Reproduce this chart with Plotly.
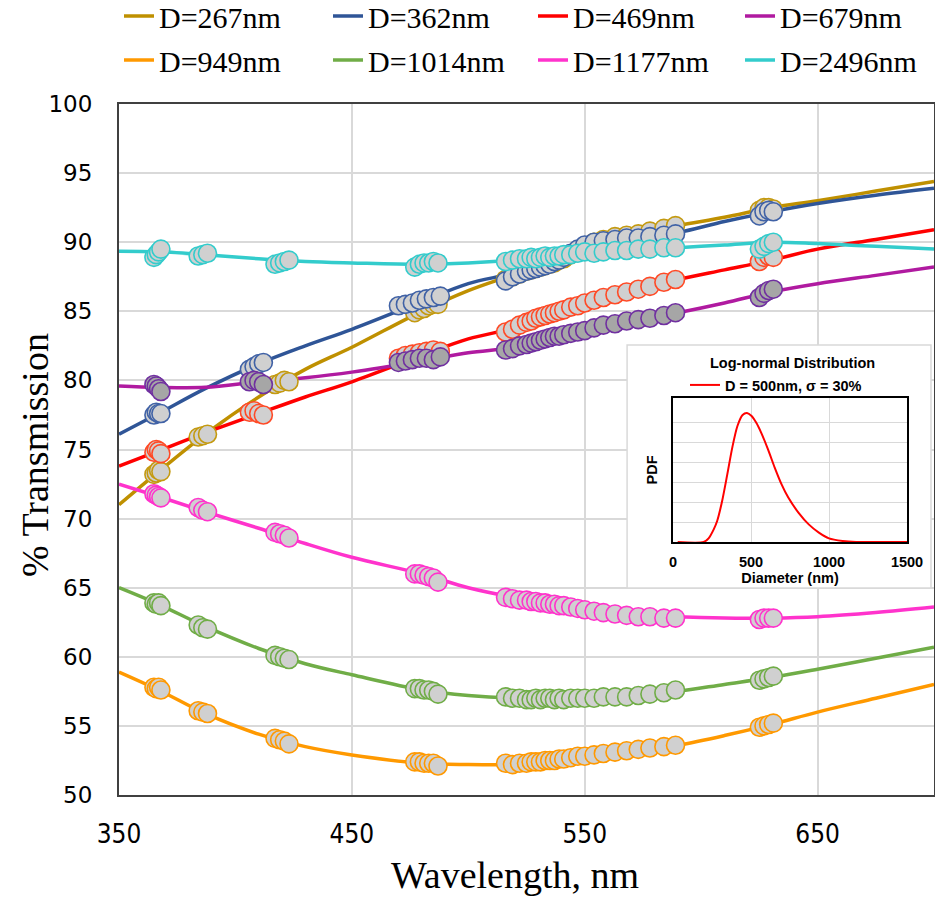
import plotly.graph_objects as go

# ---------------- data ----------------
WL_CURVE = [350, 367, 387, 410, 430, 450, 480, 500, 520, 540, 555, 570, 590, 610, 630, 650, 675, 700]
CURVE_267 = [71.0, 73.4, 76.1, 78.8, 80.8, 82.4, 85.0, 86.5, 87.7, 89.0, 89.9, 90.5, 91.2, 91.8, 92.5, 93.0, 93.7, 94.4]
CURVE_362 = [76.1, 77.6, 79.4, 81.2, 82.5, 83.7, 85.7, 87.0, 87.8, 89.0, 89.9, 90.2, 90.7, 91.5, 92.2, 92.8, 93.4, 93.9]
CURVE_469 = [73.8, 74.9, 76.2, 77.6, 78.8, 79.9, 81.8, 83.0, 83.8, 84.9, 85.8, 86.5, 87.3, 88.0, 88.7, 89.5, 90.2, 90.9]
CURVE_679 = [79.6, 79.5, 79.5, 79.9, 80.2, 80.6, 81.4, 82.0, 82.4, 83.2, 83.8, 84.3, 84.9, 85.6, 86.4, 87.0, 87.6, 88.2]
CURVE_949 = [58.9, 57.6, 55.9, 54.4, 53.5, 52.9, 52.3, 52.2, 52.2, 52.4, 52.8, 53.1, 53.6, 54.3, 55.1, 56.0, 57.0, 58.0]
CURVE_1014 = [65.0, 63.8, 62.2, 60.6, 59.5, 58.7, 57.6, 57.2, 57.0, 57.0, 57.0, 57.1, 57.5, 58.0, 58.5, 59.1, 59.9, 60.7]
CURVE_1177 = [72.5, 71.6, 70.5, 69.3, 68.2, 67.2, 66.0, 65.0, 64.3, 63.8, 63.4, 63.1, 62.9, 62.8, 62.8, 62.9, 63.2, 63.6]
CURVE_2496 = [89.35, 89.3, 89.1, 88.8, 88.6, 88.5, 88.4, 88.5, 88.7, 89.0, 89.2, 89.4, 89.6, 89.8, 90.0, 89.9, 89.7, 89.5]

# measured wavelengths (two measurement sets)
WL_MEAS_A = [365, 366, 367, 368, 384, 386, 388, 417, 419, 421, 423,
             477, 479, 481, 483, 485, 487,
             516, 519, 522, 525, 527, 529, 531, 533, 535, 537, 539, 541, 544, 547, 550, 554, 558, 563, 568, 573, 578, 584, 589,
             625, 627, 629, 631]
WL_MEAS_B = [365, 366, 367, 368, 406, 408, 410, 412,
             470, 473, 476, 479, 482, 485, 488,
             516, 519, 522, 525, 527, 529, 531, 533, 535, 537, 539, 541, 544, 547, 550, 554, 558, 563, 568, 573, 578, 584, 589,
             625, 627, 629, 631]

MEAS_267 = [73.2, 73.3, 73.5, 73.4, 75.9, 76.0, 76.1, 79.7, 79.8, 80.0, 79.9,
            84.9, 85.1, 85.2, 85.4, 85.5, 85.5,
            87.3, 87.5, 87.7, 87.9, 88.0, 88.1, 88.2, 88.3, 88.4, 88.5, 88.7, 88.8, 89.1, 89.4, 89.7, 90.0, 90.2, 90.4, 90.5, 90.6, 90.8, 91.0, 91.2,
            92.3, 92.5, 92.5, 92.4]
MEAS_2496 = [88.9, 89.1, 89.3, 89.5, 89.0, 89.1, 89.2, 88.4, 88.5, 88.6, 88.7,
             88.2, 88.4, 88.5, 88.5, 88.6, 88.5,
             88.6, 88.7, 88.8, 88.8, 88.9, 88.8, 88.9, 89.0, 88.9, 89.0, 89.0, 89.1, 89.1, 89.2, 89.3, 89.2, 89.3, 89.4, 89.4, 89.5, 89.5, 89.6, 89.6,
             89.5, 89.7, 89.9, 90.0]
MEAS_1177 = [71.8, 71.7, 71.6, 71.5, 70.8, 70.6, 70.5, 69.0, 68.9, 68.8, 68.6,
             66.0, 66.0, 65.9, 65.8, 65.7, 65.4,
             64.3, 64.2, 64.1, 64.1, 64.0, 64.0, 63.9, 63.9, 63.8, 63.8, 63.7, 63.7, 63.6, 63.5, 63.4, 63.3, 63.2, 63.1, 63.0, 62.9, 62.9, 62.8, 62.8,
             62.7, 62.8, 62.8, 62.8]
MEAS_1014 = [63.9, 63.8, 63.9, 63.7, 62.3, 62.1, 62.0, 60.1, 60.0, 59.9, 59.8,
             57.7, 57.7, 57.6, 57.6, 57.5, 57.3,
             57.1, 57.0, 57.0, 56.9, 56.9, 57.0, 56.9, 57.0, 57.0, 56.9, 57.0, 56.9, 57.0, 57.0, 57.0, 57.0, 57.1, 57.1, 57.1, 57.2, 57.3, 57.4, 57.6,
             58.3, 58.4, 58.5, 58.6]
MEAS_949 = [57.8, 57.7, 57.8, 57.6, 56.1, 56.0, 55.9, 54.1, 54.0, 53.9, 53.7,
            52.4, 52.4, 52.3, 52.3, 52.3, 52.1,
            52.3, 52.2, 52.3, 52.3, 52.4, 52.4, 52.4, 52.5, 52.5, 52.5, 52.6, 52.6, 52.7, 52.8, 52.8, 52.9, 53.0, 53.1, 53.2, 53.3, 53.4, 53.5, 53.6,
            54.9, 55.0, 55.1, 55.2]
MEAS_362 = [77.5, 77.7, 77.6, 77.6, 80.8, 81.0, 81.2, 81.3,
            85.4, 85.5, 85.6, 85.8, 85.9, 86.0, 86.1,
            87.2, 87.5, 87.7, 87.9, 88.0, 88.1, 88.2, 88.3, 88.4, 88.6, 88.7, 88.9, 89.2, 89.5, 89.8, 90.0, 90.1, 90.2, 90.3, 90.3, 90.4, 90.5, 90.6,
            91.9, 92.2, 92.3, 92.2]
MEAS_469 = [74.8, 75.0, 74.9, 74.7, 77.7, 77.8, 77.6, 77.5,
            81.6, 81.8, 81.9, 82.0, 82.1, 82.2, 82.1,
            83.5, 83.7, 84.0, 84.2, 84.3, 84.5, 84.6, 84.7, 84.8, 84.9, 85.0, 85.1, 85.3, 85.4, 85.6, 85.8, 86.0, 86.2, 86.4, 86.6, 86.8, 87.1, 87.3,
            88.6, 88.9, 89.0, 88.9]
MEAS_679 = [79.7, 79.6, 79.4, 79.2, 79.9, 80.0, 79.9, 79.7,
            81.3, 81.4, 81.5, 81.6, 81.6, 81.5, 81.7,
            82.2, 82.3, 82.5, 82.6, 82.7, 82.8, 82.9, 83.0, 83.1, 83.2, 83.2, 83.3, 83.4, 83.5, 83.6, 83.8, 84.0, 84.1, 84.3, 84.4, 84.5, 84.7, 84.9,
            86.0, 86.3, 86.5, 86.6]

SERIES_NAMES = ["D=267nm", "D=362nm", "D=469nm", "D=679nm",
                "D=949nm", "D=1014nm", "D=1177nm", "D=2496nm"]
X_TICKS = [350, 450, 550, 650]
Y_TICKS = [50, 55, 60, 65, 70, 75, 80, 85, 90, 95, 100]

# inset: log-normal distribution (arbitrary units)
DIAM = [30, 196, 228, 261, 283, 315, 348, 380, 413, 446, 474, 504, 533, 565, 609, 652, 696, 739, 804, 870, 935, 1000, 1087, 1174, 1300, 1500]
PDF = [0, 0, 0.18, 0.63, 1.05, 2.05, 3.38, 4.72, 5.8, 6.35, 6.45, 6.3, 5.97, 5.47, 4.63, 3.72, 2.88, 2.22, 1.47, 0.88, 0.47, 0.18, 0.05, 0, 0, 0]
INSET_X_TICKS = [0, 500, 1000, 1500]

# ---------------- styles ----------------
LINE_COLORS = ["#BF9000", "#2F5597", "#FF0000", "#B01AA0", "#FF9900", "#70AD47", "#FF33CC", "#33CCCC"]
EDGE_COLORS = ["#C49A10", "#4062A6", "#FF4A26", "#7030A0", "#FF9900", "#70AD47", "#FF33CC", "#33CCCC"]
FILL_COLORS = ["#D0D0D0", "#D0D0D0", "#D0D0D0", "#A6A6A6", "#D0D0D0", "#D0D0D0", "#D0D0D0", "#D0D0D0"]
CURVES = [CURVE_267, CURVE_362, CURVE_469, CURVE_679, CURVE_949, CURVE_1014, CURVE_1177, CURVE_2496]
MEAS_WL = [WL_MEAS_A, WL_MEAS_B, WL_MEAS_B, WL_MEAS_B, WL_MEAS_A, WL_MEAS_A, WL_MEAS_A, WL_MEAS_A]
MEAS = [MEAS_267, MEAS_362, MEAS_469, MEAS_679, MEAS_949, MEAS_1014, MEAS_1177, MEAS_2496]

L, R, T, B = 119, 1, 104, 104
W, H = 935, 899
PW, PH = W - L - R, H - T - B

def px(xp):
    return (xp - L) / PW

def py(yp):
    return (H - B - yp) / PH

LEGEND_COL_X = [119, 328, 533, 740]   # pixel positions of legend columns
LEGEND_ROW_Y = [16, 60]

fig = go.Figure()
legend_ids = []
for i in range(8):
    lid = "legend" if i == 0 else f"legend{i + 1}"
    legend_ids.append(lid)
    fig.add_trace(go.Scatter(x=WL_CURVE, y=CURVES[i], mode="lines", name=SERIES_NAMES[i],
                             line=dict(color=LINE_COLORS[i], width=3.5, shape="spline", smoothing=1.0),
                             legend=lid, xaxis="x", yaxis="y"))

for i in range(8):
    fig.add_trace(go.Scatter(x=MEAS_WL[i], y=MEAS[i], mode="markers", name=SERIES_NAMES[i], showlegend=False,
                             marker=dict(size=18, color=FILL_COLORS[i], line=dict(color=EDGE_COLORS[i], width=1.6)),
                             xaxis="x", yaxis="y"))

fig.add_trace(go.Scatter(x=DIAM, y=PDF, mode="lines", name="D = 500nm, σ = 30%",
                         line=dict(color="#FF0000", width=2, shape="spline", smoothing=0.8),
                         legend="legend9", xaxis="x2", yaxis="y2"))

grid = "#D9D9D9"
legend_font = dict(family="Liberation Serif, Times New Roman, serif", size=30, color="black")
inset_font = dict(family="Liberation Sans, Arial, sans-serif", size=14.5, color="black")

layout_legends = {}
for i, lid in enumerate(legend_ids):
    layout_legends[lid] = dict(orientation="h", x=px(LEGEND_COL_X[i % 4]), y=py(LEGEND_ROW_Y[i // 4]),
                               xanchor="left", yanchor="middle", bgcolor="rgba(0,0,0,0)", font=legend_font)

fig.update_layout(
    width=W, height=H,
    margin=dict(l=L, r=R, t=T, b=B, autoexpand=False),
    paper_bgcolor="white", plot_bgcolor="white",
    xaxis=dict(domain=[0, 1], range=[350, 700], tickvals=X_TICKS, showgrid=True, gridcolor=grid, gridwidth=2,
               showline=True, linecolor="#404040", linewidth=2, mirror=True, ticks="", zeroline=False,
               tickfont=dict(family="Liberation Sans Narrow, DejaVu Sans Condensed, Liberation Sans, sans-serif", size=26, color="black"),
               ticklabelstandoff=15),
    yaxis=dict(domain=[0, 1], range=[50, 100], tickvals=Y_TICKS, showgrid=True, gridcolor=grid, gridwidth=2,
               showline=True, linecolor="#404040", linewidth=2, mirror=True, ticks="", zeroline=False,
               tickfont=dict(family="DejaVu Sans, sans-serif", size=23, color="black"),
               ticklabelstandoff=20),
    xaxis2=dict(domain=[px(673), px(907)], anchor="y2", range=[0, 1500], tickvals=INSET_X_TICKS,
                showgrid=True, gridcolor=grid, gridwidth=1, showline=True, linecolor="black", linewidth=1.5,
                mirror=True, ticks="", zeroline=False, ticklabelstandoff=6,
                tickfont=dict(inset_font, weight="bold"),
                title=dict(text="<b>Diameter (nm)</b>", font=inset_font, standoff=4)),
    yaxis2=dict(domain=[py(542), py(398)], anchor="x2", range=[0, 7.2], tickvals=[1, 2, 3, 4, 5, 6],
                showticklabels=False, showgrid=True, gridcolor=grid, gridwidth=1, showline=True,
                linecolor="black", linewidth=1.5, mirror=True, ticks="", zeroline=False,
                title=dict(text="<b>PDF</b>", font=inset_font, standoff=10)),
    legend9=dict(orientation="h", x=px(685), y=py(385), xanchor="left", yanchor="middle",
                 bgcolor="rgba(0,0,0,0)", font=dict(inset_font, weight="bold")),
    shapes=[dict(type="rect", xref="x", yref="y", x0=568.2, x1=698.7, y0=64.98, y1=82.56,
                 fillcolor="white", line=dict(color=grid, width=1.5), layer="between")],
    annotations=[
        dict(text="Wavelength, nm", xref="paper", yref="paper", x=px(515), y=py(875), showarrow=False,
             xanchor="center", yanchor="middle",
             font=dict(family="Liberation Serif, Times New Roman, serif", size=38, color="black")),
        dict(text="% Transmission", xref="paper", yref="paper", x=px(35), y=py(455), showarrow=False,
             textangle=-90, xanchor="center", yanchor="middle",
             font=dict(family="Liberation Serif, Times New Roman, serif", size=38, color="black")),
        dict(text="<b>Log-normal Distribution</b>", xref="paper", yref="paper", x=px(792), y=py(363),
             showarrow=False, xanchor="center", yanchor="middle", font=inset_font),
    ],
    **layout_legends,
)

fig.write_html("out.html")
